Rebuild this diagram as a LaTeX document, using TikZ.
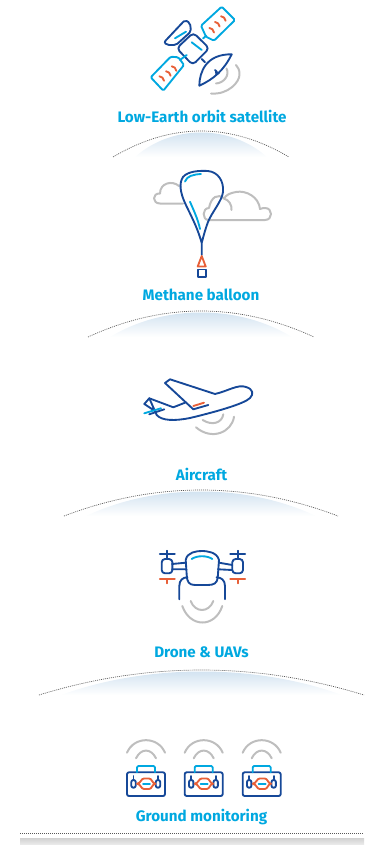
\documentclass[tikz,border=0pt]{standalone}
\usepackage{fontspec}
\setmainfont{Fira Sans}
\usepackage{xcolor}
\usepackage{tikz}
\usetikzlibrary{positioning,calc}
\definecolor{skycyan}{RGB}{0, 168, 224}
\definecolor{deepnavy}{RGB}{22, 72, 152}
\definecolor{hotorange}{RGB}{232, 96, 56}
\definecolor{softgray}{RGB}{190, 190, 190}
\definecolor{hazeblue}{RGB}{196, 218, 236}
\tikzset{
    navyline/.style={draw=deepnavy,line width=1.4pt,line join=round,line cap=round},
    cyanline/.style={draw=skycyan,line width=1.4pt,line join=round,line cap=round},
    orangeline/.style={draw=hotorange,line width=1.4pt,line join=round,line cap=round},
    grayline/.style={draw=softgray,line width=1.5pt,line join=round,line cap=round},
    tierlabel/.style={skycyan,font=\bfseries\fontsize{11.4}{13}\selectfont,anchor=center},
    horizonline/.style={draw=black!65,line width=.5pt,dash pattern=on .75pt off .75pt}
}
\begin{document}
\begin{tikzpicture}[x=.75pt,y=-.75pt]
    \useasboundingbox (0,0) rectangle (364,845);

    % Horizon arcs with haze below
    \foreach \xl/\xr/\ybase/\ypeak in {113/289/157/131,88/314/337/311,64/338/516/490,39/364/695/670} {
        \pgfmathsetmacro{\ctrly}{\ybase-4/3*(\ybase-\ypeak)}
        \pgfmathsetmacro{\ctrlh}{\ybase-4/3*(\ybase-\ypeak-1.5)}
        \pgfmathsetmacro{\xa}{\xl+(\xr-\xl)/3}
        \pgfmathsetmacro{\xb}{\xr-(\xr-\xl)/3}
        \shade[top color=hazeblue,bottom color=white] (\xl+22,\ybase) .. controls (\xa,\ctrlh) and (\xb,\ctrlh) .. (\xr-22,\ybase) -- cycle;
        \draw[horizonline] (\xl,\ybase) .. controls (\xa,\ctrly) and (\xb,\ctrly) .. (\xr,\ybase);
    }

    % Floor
    \draw[horizonline] (20,833) -- (364,833);
    \shade[top color=black!18,bottom color=black!7] (20,838) rectangle (364,845);

    % Satellite
    \draw[navyline,rounded corners=3pt] (193.3,32.7) -- (209.3,48.3) -- (192.7,65) -- (176.7,48.3) -- cycle;
    \draw[navyline,rounded corners=1.5pt] (164,42.3) -- (185,20) -- (190,23) -- (191,31.5) -- (176,45) -- (167,45) -- cycle;
    \draw[cyanline] (175,38.3) -- (186,31.7);
    \draw[cyanline] (191.7,42.3) -- (201.7,50);
    \draw[cyanline,rounded corners=1pt] (201,25.7) -- (221.7,6.7) -- (235,20) -- (214,40.7) -- (206,36.7) -- cycle;
    \draw[cyanline] (203,38.5) -- (206,36);
    \draw[cyanline,rounded corners=1pt] (150.7,77.3) -- (170.7,56.7) -- (178.3,57.3) -- (184,65) -- (163.3,90.7) -- cycle;
    \draw[cyanline] (180,60) -- (186.7,55);
    \foreach \tx/\ty in {211.7/30,217.3/24,223.3/18.3,161.7/78.3,168.3/73.3,174/68.3} {
        \draw[orangeline] (\tx-2.3,\ty-2) .. controls (\tx,\ty-2) and (\tx+2,\ty) .. (\tx+2.3,\ty+2.5);
    }
    \draw[navyline] (199.3,85.7) .. controls (199.5,72) and (206,54) .. (231.7,54.3) .. controls (224,70) and (214,79) .. (199.3,85.7);
    \draw[navyline] (201.7,59) -- (205,62.3);
    \draw[navyline] (215,70) -- (217,72);
    \fill[deepnavy] (215,70.5) -- (219.5,73.5) -- (215.5,76) -- cycle;
    \draw[grayline] (211,93.5) .. controls (228,95) and (240,82) .. (239.5,74) .. controls (239.5,70) and (238,67) .. (236,65);
    \draw[grayline] (216,83.5) .. controls (224,83) and (230,75) .. (226.5,68.5);
    \node[tierlabel] (satellitelabel) at (202,116) {Low-Earth orbit satellite};

    % Balloon and clouds
    \draw[grayline] (183,203.5) -- (160,203.5) .. controls (152,203.5) and (152,193) .. (160,193.5) .. controls (160,183) and (172,180) .. (179,186);
    \draw[grayline] (208.5,220) -- (265,220) .. controls (273,220) and (273,208) .. (265,208) .. controls (264,208) and (262,208) .. (260,209) .. controls (259,197) and (246,190) .. (236,192) .. controls (230,193) and (226,195) .. (224,198.5) .. controls (218,193) and (211,197) .. (209,208) .. controls (202,208) and (202,220) .. (208.5,220);
    \draw[grayline] (224,198.5) .. controls (229,200) and (232,205) .. (231.5,210);
    \draw[navyline] (201.7,243) .. controls (197,226) and (190,214) .. (185,203) .. controls (180,192) and (179,183) .. (183,177) .. controls (188,171) and (200,170.5) .. (208,171) .. controls (218,172) and (224,181) .. (223,192) .. controls (222,201) and (212,212) .. (208,222) .. controls (205,230) and (203,238) .. (201.7,243) -- (201.7,255);
    \draw[cyanline] (185,181.5) .. controls (187,176) and (193,174.5) .. (201,174);
    \draw[cyanline] (190,201.7) .. controls (193,209) and (198,219) .. (200,229);
    \draw[orangeline] (201.7,256) -- (197.7,266.5) -- (205.7,266.5) -- cycle;
    \draw[navyline] (198.3,269.5) rectangle (205.7,276.7);
    \node[tierlabel] (balloonlabel) at (201,295) {Methane balloon};

    % Aircraft
    \draw[navyline] (165,383) -- (170,379.3) -- (215,394) .. controls (228,391) and (238,384) .. (246,387) .. controls (253,389) and (254,394) .. (250,398) .. controls (244,404) and (215,412) .. (190,418) .. controls (175,421) and (162,421) .. (156.7,415) -- (149.3,398.3) -- (144.3,404) -- (155,411);
    \draw[navyline] (149.3,398.3) -- (173.3,407.3) -- (185,402.7);
    \draw[navyline] (165,383) -- (193.3,409.3) -- (208.3,405);
    \draw[orangeline] (193.3,406) -- (204,402.7);
    \draw[cyanline] (144.3,413.3) -- (161,408.3);
    \draw[navyline] (149.3,414.3) -- (164.3,409.3);
    \draw[grayline] (202.7,420) .. controls (212,426) and (222,423) .. (223.3,414.3);
    \draw[grayline] (196,427.3) .. controls (212,441) and (232,432) .. (234,416.7);
    \node[tierlabel] (aircraftlabel) at (201.5,474) {Aircraft};

    % Drone
    \draw[navyline] (185.7,560) .. controls (187,552) and (197,551) .. (201.7,551) .. controls (207,551) and (217,552) .. (219,560) -- (217.7,578) .. controls (217,583) and (214,585) .. (208,585) -- (195,585) .. controls (189,585) and (187,582) .. (186.7,575) -- cycle;
    \draw[navyline] (179.3,599.3) -- (179.3,586) .. controls (179.3,580) and (183,577.3) .. (187.5,577.3);
    \draw[navyline] (225,599.3) -- (225,586) .. controls (225,580) and (221,577.3) .. (216.5,577.3);
    \draw[navyline] (172,564) -- (185.7,562.7) (172,569.3) -- (186.5,569.3);
    \draw[navyline] (219,562.7) -- (232.3,565) (218,569.3) -- (232.3,570);
    \foreach \cx/\mx in {167.3/161.7,237.7/232.3} {
        \draw[navyline,rounded corners=2.5pt] (\mx,559) rectangle (\mx+10.7,573.3);
        \draw[navyline] (\cx-7.5,554.3) -- (\cx+7.5,554.3) (\cx,550.7) -- (\cx,559);
        \draw[orangeline] (\cx-7.5,579.3) -- (\cx+7.5,579.3) (\cx,579.3) -- (\cx,583.3);
    }
    \draw[cyanline] (191.7,559) .. controls (197,555.3) and (207,555.3) .. (212.3,559);
    \draw[grayline] (190.7,601) .. controls (195,613) and (209,613) .. (213.3,601);
    \draw[grayline] (182.3,606) .. controls (190,628) and (215,628) .. (222.3,606);
    \node[tierlabel] (dronelabel) at (201.5,652) {Drone \& UAVs};

    % Ground stations
    \foreach \ux in {0,57.7,115.7} {
        \begin{scope}[xshift=\ux*.75pt]
            \draw[grayline] (127,752.7) .. controls (134,736) and (158,736) .. (165,752.7);
            \draw[grayline] (136,758.3) .. controls (141,748) and (151,748) .. (156,758.3);
            \draw[navyline,rounded corners=1.5pt] (127,772.3) rectangle (165,796);
            \draw[cyanline,rounded corners=1pt] (137,772.3) -- (137,766) -- (155,766) -- (155,772.3);
            \foreach \sx in {133.5,158} {
                \draw[navyline,rounded corners=1.5pt] (\sx-2.2,780) rectangle (\sx+2.2,787.7);
                \draw[navyline] (\sx,776) -- (\sx,780);
            }
            \draw[orangeline] (137,783.7) .. controls (141,783.2) and (141,778.5) .. (144,778.5) -- (149,778.5) .. controls (152,778.5) and (152,783.2) .. (155.3,783.7) .. controls (152,784.2) and (152,789) .. (149,789) -- (144,789) .. controls (141,789) and (141,784.2) .. (137,783.7) -- cycle;
            \draw[cyanline] (143,783.7) -- (150,783.7);
        \end{scope}
    }
    \node[tierlabel] (groundlabel) at (201.5,817) {Ground monitoring};
\end{tikzpicture}
\end{document}
